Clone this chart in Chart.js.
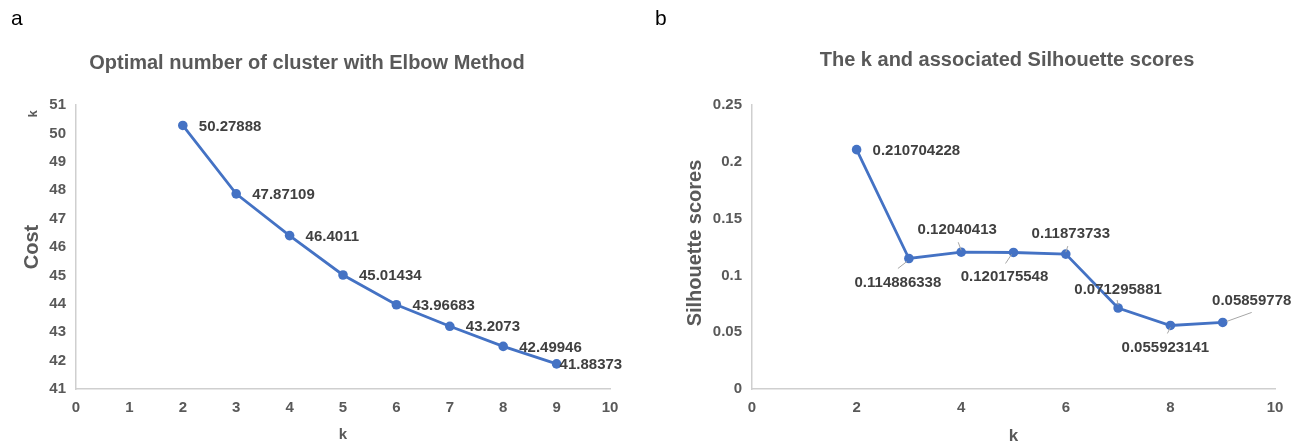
<!DOCTYPE html>
<html><head><meta charset="utf-8">
<script src="https://cdn.jsdelivr.net/npm/chart.js@4.4.1/dist/chart.umd.min.js"></script>
<style>
html,body{margin:0;padding:0;background:#fff;width:1307px;height:445px;overflow:hidden;}
.panel{position:absolute;top:0;height:445px;}
#pa{left:0;width:650px;} #pb{left:650px;width:657px;}
canvas{display:block;}
</style></head><body>
<div class="panel" id="pa"><canvas id="ca" width="650" height="445"></canvas></div>
<div class="panel" id="pb"><canvas id="cb" width="657" height="445"></canvas></div>
<script>
// ---- data ----
const kValues = [2, 3, 4, 5, 6, 7, 8, 9];
const costValues = [50.27888, 47.87109, 46.4011, 45.01434, 43.96683, 43.2073, 42.49946, 41.88373];
const silhouetteValues = [0.210704228, 0.114886338, 0.12040413, 0.120175548, 0.11873733, 0.071295881, 0.055923141, 0.05859778];
const costYTicks = ['41','42','43','44','45','46','47','48','49','50','51'];
const costXTicks = ['0','1','2','3','4','5','6','7','8','9','10'];
const silYTicks = ['0','0.05','0.1','0.15','0.2','0.25'];
const silXTicks = ['0','2','4','6','8','10'];
const costLabels = costValues.map(String);
const silLabels = silhouetteValues.map(String);

// ---- styling / placement (not data) ----
const FONT = "'Liberation Sans', Arial, Helvetica, sans-serif";
const BLUE = '#4472C4';
const AXIS = '#cfcfcf';
const TICKC = '#595959';
const LABELC = '#404040';
// label offsets relative to the point: [dx, dy, align, leader(optional: [x1,y1,x2,y2])]
const costLabelPos = [
  [16,1,'left'],[16,1,'left'],[16,1,'left'],[16,1,'left'],[16,1,'left'],[16,1,'left'],[16,1,'left'],[3,1,'left']
];
const silLabelPos = [
  [16,1,'left'],
  [-11,24,'center',[-11,10,-2,3]],
  [-4,-22,'center',[-3,-10,0,-2]],
  [-9,24,'center',[-8,11,-2,2]],
  [5,-20,'center',[2,-8,0,-2]],
  [0,-18,'center',[-1,-8,0,-3]],
  [-5,22,'center',[-3,8,0,2]],
  [29,-22,'center',[4,-1,29,-10]]
];

function textPlugin(cfg) {
  return {
    id: 'txt' + cfg.id,
    afterDatasetsDraw(chart) {
      const ctx = chart.ctx;
      const meta = chart.getDatasetMeta(0);
      ctx.save();
      ctx.strokeStyle = '#a6a6a6';
      ctx.lineWidth = 1;
      meta.data.forEach((pt, i) => {
        const p = cfg.pos[i];
        if (p[3]) {
          ctx.beginPath();
          ctx.moveTo(pt.x + p[3][0], pt.y + p[3][1]);
          ctx.lineTo(pt.x + p[3][2], pt.y + p[3][3]);
          ctx.stroke();
        }
      });
      ctx.fillStyle = LABELC;
      ctx.font = 'bold 15px ' + FONT;
      ctx.textBaseline = 'middle';
      meta.data.forEach((pt, i) => {
        const p = cfg.pos[i];
        ctx.textAlign = p[2];
        ctx.fillText(cfg.labels[i], pt.x + p[0], pt.y + p[1]);
      });
      ctx.fillStyle = '#000';
      ctx.font = '21px ' + FONT;
      ctx.textAlign = 'left';
      ctx.fillText(cfg.letter, cfg.letterX, 19);
      ctx.fillStyle = TICKC;
      ctx.font = 'bold 20px ' + FONT;
      ctx.textAlign = 'center';
      ctx.fillText(cfg.title, cfg.titleX, cfg.titleY);
      ctx.font = 'bold ' + cfg.xTitleSize + 'px ' + FONT;
      ctx.fillText(cfg.xTitle, (chart.chartArea.left + chart.chartArea.right) / 2, cfg.xTitleY);
      ctx.save();
      ctx.translate(cfg.yTitleX, cfg.yTitleY);
      ctx.rotate(-Math.PI / 2);
      ctx.font = 'bold ' + cfg.yTitleSize + 'px ' + FONT;
      ctx.fillText(cfg.yTitle, 0, 0);
      ctx.restore();
      if (cfg.extra) {
        ctx.save();
        ctx.translate(cfg.extra.x, cfg.extra.y);
        ctx.rotate(-Math.PI / 2);
        ctx.font = 'bold 13px ' + FONT;
        ctx.fillText(cfg.extra.text, 0, 0);
        ctx.restore();
      }
      ctx.restore();
    }
  };
}

function makeChart(el, o) {
  return new Chart(el, {
    type: 'scatter',
    data: {
      datasets: [{
        data: kValues.map((k, i) => ({ x: k, y: o.values[i] })),
        showLine: true,
        borderColor: BLUE,
        backgroundColor: BLUE,
        borderWidth: 2.8,
        pointRadius: 4.8,
        pointHoverRadius: 4.8,
        pointBorderWidth: 0
      }]
    },
    options: {
      responsive: false,
      animation: false,
      events: [],
      layout: { padding: { left: 0, top: 105, right: o.padRight, bottom: 0 } },
      plugins: { legend: { display: false }, tooltip: { enabled: false }, title: { display: false } },
      scales: {
        x: {
          type: 'linear', min: 0, max: 10,
          ticks: { stepSize: o.xStep, color: TICKC, font: { family: FONT, size: 15, weight: 'bold' }, padding: 10,
                   callback: (v, i) => o.xTicks[i] },
          grid: { display: false, drawTicks: false },
          border: { display: true, color: AXIS, width: 1.5 },
          afterFit: s => { s.height = 56; }
        },
        y: {
          type: 'linear', min: o.yMin, max: o.yMax,
          ticks: { stepSize: o.yStep, color: TICKC, font: { family: FONT, size: 15, weight: 'bold' }, padding: 10,
                   callback: (v, i) => o.yTicks[i] },
          grid: { display: false, drawTicks: false },
          border: { display: true, color: AXIS, width: 1.5 },
          afterFit: s => { s.width = o.leftW; }
        }
      }
    },
    plugins: [textPlugin(o.text)]
  });
}

makeChart(document.getElementById('ca'), {
  values: costValues, xTicks: costXTicks, yTicks: costYTicks, xStep: 1, yStep: 1, yMin: 41, yMax: 51,
  leftW: 76, padRight: 40,
  text: { id: 'a', pos: costLabelPos, labels: costLabels, letter: 'a', letterX: 11,
          title: 'Optimal number of cluster with Elbow Method', titleX: 307, titleY: 63,
          xTitle: 'k', xTitleY: 435, xTitleSize: 15,
          yTitle: 'Cost', yTitleX: 32, yTitleY: 247, yTitleSize: 20,
          extra: { text: 'k', x: 33, y: 114 } }
});
makeChart(document.getElementById('cb'), {
  values: silhouetteValues, xTicks: silXTicks, yTicks: silYTicks, xStep: 2, yStep: 0.05, yMin: 0, yMax: 0.25,
  leftW: 102, padRight: 32,
  text: { id: 'b', pos: silLabelPos, labels: silLabels, letter: 'b', letterX: 5,
          title: 'The k and associated Silhouette scores', titleX: 357, titleY: 60,
          xTitle: 'k', xTitleY: 436, xTitleSize: 17,
          yTitle: 'Silhouette scores', yTitleX: 45, yTitleY: 243, yTitleSize: 20 }
});
</script>
</body></html>
